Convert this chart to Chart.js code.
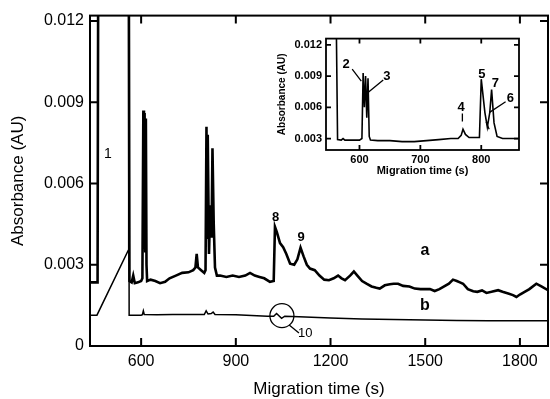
<!DOCTYPE html>
<html>
<head>
<meta charset="utf-8">
<script src="https://cdn.jsdelivr.net/npm/chart.js@4.4.1/dist/chart.umd.min.js"></script>
<style>
  html, body { margin: 0; padding: 0; background: #fff; }
  #wrap { position: relative; width: 550px; height: 399px; }
  #main { position: absolute; left: 0; top: 0; }
  #inset { position: absolute; left: 275px; top: 28px; }
</style>
</head>
<body>
<div id="wrap">
  <canvas id="main" width="550" height="399"></canvas>
  <canvas id="inset" width="250" height="152"></canvas>
</div>
<script>
// trace a (thick), main plot
const timeA = [440, 462, 464, 561, 563, 570, 575, 580, 590, 600, 604, 607, 609, 611, 613, 615, 617, 619,
  630, 645, 660, 676, 690, 710, 730, 750, 765, 772, 776, 780, 790, 800, 804, 807, 809, 811, 815, 819,
  823, 826, 830, 834, 840, 850, 870, 890, 910, 930, 945, 960, 975, 990, 1008, 1020, 1024, 1030,
  1040, 1050, 1060, 1072, 1085, 1095, 1105, 1115, 1125, 1135, 1150, 1165, 1180, 1195, 1210, 1224,
  1235, 1246, 1262, 1274, 1285, 1300, 1314, 1330, 1345, 1356, 1372, 1388, 1400, 1414, 1430, 1450,
  1467, 1485, 1500, 1515, 1530, 1545, 1560, 1575, 1588, 1600, 1610, 1620, 1635, 1652, 1665, 1680,
  1694, 1710, 1731, 1745, 1763, 1778, 1789, 1800, 1815, 1830, 1852, 1868, 1889];
const absA = [0.00235, 0.00235, 0.0140, 0.0140, 0.00240, 0.00235, 0.0026, 0.00232, 0.00235, 0.0024,
  0.0025, 0.0087, 0.0036, 0.0086, 0.0035, 0.0084, 0.0030, 0.0024,
  0.00245, 0.0024, 0.00232, 0.00237, 0.0025, 0.0026, 0.0027, 0.00272, 0.0028, 0.0029, 0.0034, 0.0029,
  0.0028, 0.0027, 0.0028, 0.0081, 0.0040, 0.0078, 0.0034, 0.0052,
  0.0040, 0.0073, 0.0045, 0.0029, 0.0026, 0.0026, 0.00255, 0.0026, 0.00255, 0.0026, 0.0027, 0.0026,
  0.00255, 0.0025, 0.00237, 0.0024, 0.0044, 0.0042,
  0.0038, 0.00365, 0.0034, 0.00304, 0.0030, 0.0032, 0.00363, 0.0033, 0.0030, 0.00286, 0.0028, 0.0026,
  0.00245, 0.00243, 0.0025, 0.0026,
  0.0025, 0.00243, 0.0026, 0.00275, 0.0026, 0.0024, 0.0023, 0.0022, 0.00215, 0.00212, 0.00224,
  0.00228, 0.0023, 0.0023, 0.00222, 0.0022,
  0.00212, 0.0021, 0.0021, 0.0021, 0.00203, 0.0021, 0.0022, 0.0023, 0.00245, 0.0024, 0.00235,
  0.0023, 0.0021, 0.00202, 0.0020, 0.00205,
  0.00196, 0.0020, 0.00206, 0.0020, 0.00194, 0.00188, 0.00181, 0.0019, 0.0020, 0.0021, 0.0023,
  0.0022, 0.00206];

// trace b (thin), main plot
const timeB = [440, 460, 559, 560, 561, 562, 600, 604, 607, 610, 650, 700, 750, 800, 806, 812, 822,
  828, 834, 900, 950, 1000, 1020, 1029, 1045, 1055, 1100, 1200, 1300, 1400, 1500, 1600, 1700, 1800, 1889];
const absB = [0.00114, 0.00114, 0.00353, 0.0140, 0.0140, 0.00114, 0.00114, 0.00116, 0.0013, 0.00116,
  0.00115, 0.00116, 0.00116, 0.00116, 0.0013, 0.00118, 0.0012,
  0.00125, 0.00116, 0.00115, 0.00113, 0.0011, 0.0011, 0.0012, 0.00102, 0.0011, 0.00108, 0.00103,
  0.0010, 0.00098, 0.00096, 0.00094, 0.00093, 0.00093, 0.00093];

// inset trace
const timeIn = [562, 564, 570, 573, 576, 590, 600, 604, 606, 608, 610, 612, 614, 616, 618, 630, 650,
  670, 690, 710, 730, 750, 762, 767, 770, 774, 780, 797, 800, 806, 810, 814, 817, 821, 826, 835, 850, 862];
const absIn = [0.0135, 0.0029, 0.00285, 0.0030, 0.00285, 0.00285, 0.00285, 0.0030, 0.0093, 0.0060,
  0.0090, 0.0050, 0.0088, 0.0032, 0.00285, 0.0028, 0.0028,
  0.0027, 0.0027, 0.0028, 0.0029, 0.0030, 0.0030, 0.0033, 0.0039, 0.0034, 0.0031, 0.0031, 0.0087,
  0.0055, 0.0041, 0.0055, 0.0077, 0.0045, 0.0032, 0.0030, 0.0030, 0.0030];

const mainXTicks = [600, 900, 1200, 1500, 1800];
const mainYTicks = [0, 0.003, 0.006, 0.009, 0.012];
const insetXTicks = [600, 700, 800];
const insetYTicks = [0.003, 0.006, 0.009, 0.012];

// peak labels, in data units
const mainLabels = [
  { t: 495, y: 0.0071, text: '1', font: '14px "Liberation Sans"' },
  { t: 1026, y: 0.00476, text: '8', font: 'bold 13px "Liberation Sans"' },
  { t: 1107, y: 0.00402, text: '9', font: 'bold 13px "Liberation Sans"' },
  { t: 1499, y: 0.00353, text: 'a', font: 'bold 16px "Liberation Sans"' },
  { t: 1499, y: 0.00151, text: 'b', font: 'bold 16px "Liberation Sans"' },
  { t: 1120, y: 0.00046, text: '10', font: '13px "Liberation Sans"' }
];
const mainLines = [[1069, 0.00078, 1100, 0.00048]];
const insetLabels = [
  { t: 578, y: 0.0101, text: '2' },
  { t: 645, y: 0.0090, text: '3' },
  { t: 767, y: 0.0060, text: '4' },
  { t: 801, y: 0.0092, text: '5' },
  { t: 823, y: 0.0083, text: '7' },
  { t: 848, y: 0.0069, text: '6' }
];
const insetLines = [
  [588, 0.00966, 603, 0.00852],
  [639, 0.00862, 615, 0.00748],
  [769, 0.0054, 769, 0.00464],
  [840, 0.00653, 813, 0.00549],
  [808, 0.0046, 813, 0.0039]
];

const toPoints = (ts, vs) => ts.map((t, i) => ({ x: t, y: vs[i] }));

const framePlugin = {
  id: 'frame',
  afterDraw(chart, args, opts) {
    const { ctx, chartArea: { left, right, top, bottom }, scales: { x, y } } = chart;
    ctx.save();
    ctx.strokeStyle = '#000';
    ctx.lineWidth = opts.lineWidth;
    ctx.strokeRect(left, top, right - left, bottom - top);
    ctx.beginPath();
    x.ticks.forEach(tk => {
      const px = x.getPixelForValue(tk.value);
      ctx.moveTo(px, bottom); ctx.lineTo(px, bottom - opts.tick);
      ctx.moveTo(px, top); ctx.lineTo(px, top + opts.tick);
    });
    y.ticks.forEach(tk => {
      const py = y.getPixelForValue(tk.value);
      ctx.moveTo(left, py); ctx.lineTo(left + opts.tick, py);
      ctx.moveTo(right, py); ctx.lineTo(right - opts.tick, py);
    });
    ctx.stroke();

    // labels and leader lines
    ctx.fillStyle = '#000';
    ctx.textAlign = 'center';
    ctx.textBaseline = 'middle';
    (opts.labels || []).forEach(l => {
      ctx.font = l.font || opts.labelFont;
      ctx.fillText(l.text, x.getPixelForValue(l.t), y.getPixelForValue(l.y));
    });
    ctx.lineWidth = 1.3;
    ctx.beginPath();
    (opts.lines || []).forEach(s => {
      ctx.moveTo(x.getPixelForValue(s[0]), y.getPixelForValue(s[1]));
      ctx.lineTo(x.getPixelForValue(s[2]), y.getPixelForValue(s[3]));
    });
    ctx.stroke();
    if (opts.circle) {
      ctx.beginPath();
      ctx.arc(x.getPixelForValue(opts.circle.t), y.getPixelForValue(opts.circle.y), opts.circle.r, 0, Math.PI * 2);
      ctx.stroke();
    }
    ctx.restore();
  }
};

const fmt = v => (v === 0 ? '0' : v.toFixed(3));

new Chart(document.getElementById('main'), {
  type: 'line',
  data: {
    datasets: [
      { data: toPoints(timeA, absA), borderColor: '#000', borderWidth: 2.6, pointRadius: 0, tension: 0 },
      { data: toPoints(timeB, absB), borderColor: '#000', borderWidth: 1.5, pointRadius: 0, tension: 0 }
    ]
  },
  options: {
    responsive: false,
    animation: false,
    layout: { padding: { top: 15, right: 2, left: 0, bottom: 0 } },
    plugins: {
      legend: { display: false },
      tooltip: { enabled: false },
      frame: { lineWidth: 2, tick: 8, labels: mainLabels, lines: mainLines,
               circle: { t: 1046, y: 0.00112, r: 12 } }
    },
    scales: {
      x: {
        type: 'linear', min: 438, max: 1889,
        afterBuildTicks: s => { s.ticks = mainXTicks.map(v => ({ value: v })); },
        afterFit: s => { s.height = 53; },
        grid: { display: false, drawTicks: false },
        border: { display: false },
        ticks: { color: '#000', padding: 6, callback: v => String(v), font: { family: 'Liberation Sans', size: 16 } },
        title: { display: true, text: 'Migration time (s)', color: '#000', padding: { top: 0, bottom: -1 },
                 font: { family: 'Liberation Sans', size: 17 } }
      },
      y: {
        min: 0, max: 0.0122,
        afterBuildTicks: s => { s.ticks = mainYTicks.map(v => ({ value: v })); },
        afterFit: s => { s.width = 90; },
        grid: { display: false, drawTicks: false },
        border: { display: false },
        ticks: { color: '#000', padding: 6, callback: v => fmt(v), font: { family: 'Liberation Sans', size: 16 } },
        title: { display: true, text: 'Absorbance (AU)', color: '#000', padding: { top: 8, bottom: 0 },
                 font: { family: 'Liberation Sans', size: 17 } }
      }
    }
  },
  plugins: [framePlugin]
});

new Chart(document.getElementById('inset'), {
  type: 'line',
  data: {
    datasets: [
      { data: toPoints(timeIn, absIn), borderColor: '#000', borderWidth: 1.6, pointRadius: 0, tension: 0 }
    ]
  },
  options: {
    responsive: false,
    animation: false,
    layout: { padding: { top: 9, right: 6, left: 0, bottom: 0 } },
    plugins: {
      legend: { display: false },
      tooltip: { enabled: false },
      frame: { lineWidth: 1.8, tick: 5, labels: insetLabels, lines: insetLines,
               labelFont: 'bold 13px "Liberation Sans"' }
    },
    scales: {
      x: {
        type: 'linear', min: 545, max: 862,
        afterBuildTicks: s => { s.ticks = insetXTicks.map(v => ({ value: v })); },
        afterFit: s => { s.height = 30; },
        grid: { display: false, drawTicks: false },
        border: { display: false },
        ticks: { color: '#000', padding: 3, callback: v => String(v), font: { family: 'Liberation Sans', size: 11, weight: 'bold' } },
        title: { display: true, text: 'Migration time (s)', color: '#000', padding: { top: 0, bottom: 2 },
                 font: { family: 'Liberation Sans', size: 11, weight: 'bold' } }
      },
      y: {
        min: 0.0019, max: 0.0126,
        afterBuildTicks: s => { s.ticks = insetYTicks.map(v => ({ value: v })); },
        afterFit: s => { s.width = 51; },
        grid: { display: false, drawTicks: false },
        border: { display: false },
        ticks: { color: '#000', padding: 4, callback: v => v.toFixed(3), font: { family: 'Liberation Sans', size: 11, weight: 'bold' } },
        title: { display: true, text: 'Absorbance (AU)', color: '#000', padding: { top: 1, bottom: 0 },
                 font: { family: 'Liberation Sans', size: 10, weight: 'bold' } }
      }
    }
  },
  plugins: [framePlugin]
});
</script>
</body>
</html>
